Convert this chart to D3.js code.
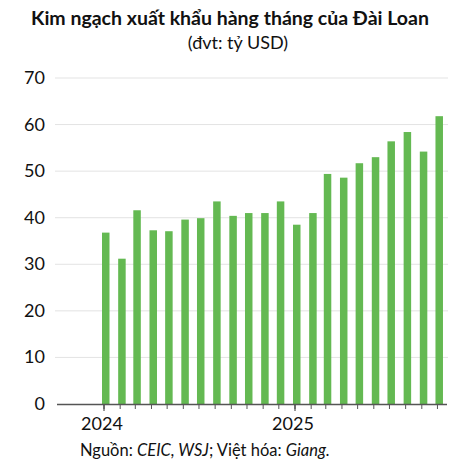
<!DOCTYPE html>
<html><head><meta charset="utf-8">
<script src="https://cdn.jsdelivr.net/npm/d3@7"></script>
<style>body{margin:0;background:#fff;font-family:Lato,sans-serif}</style>
</head><body><svg id="c" width="476" height="469"></svg>
<script>
// monthly exports, Jan 2024 .. Oct 2025
var months = d3.range(22).map(i => new Date(2024, i, 1));
var exportsBn = [36.8,31.2,41.6,37.3,37.1,39.6,39.9,43.5,40.4,41.0,41.0,43.5,
                 38.5,41.0,49.4,48.6,51.7,53.0,56.4,58.4,54.2,61.8];
var yTicks = [0,10,20,30,40,50,60,70];
var yearTicks = [new Date(2024,0,1), new Date(2025,0,1)];

var svg = d3.select("#c");
var x = d3.scaleTime().domain(yearTicks).range([104, 295]);
var y = d3.scaleLinear().domain([0,70]).range([404, 78]);

svg.append("text").attr("x",230).attr("y",25).attr("text-anchor","middle")
  .attr("font-weight","bold").attr("font-size",19.5).attr("fill","#111")
  .text("Kim ngạch xuất khẩu hàng tháng của Đài Loan");
svg.append("text").attr("x",238).attr("y",49).attr("text-anchor","middle")
  .attr("font-size",18).attr("fill","#111").text("(đvt: tỷ USD)");

// grid
svg.selectAll(".g").data(yTicks.slice(1)).join("line")
  .attr("x1",55).attr("x2",448).attr("y1",d=>y(d)).attr("y2",d=>y(d))
  .attr("stroke","#e3e3e3").attr("stroke-width",1);
svg.selectAll(".yl").data(yTicks).join("text")
  .attr("x",45).attr("y",d=>y(d)+6).attr("text-anchor","end")
  .attr("font-size",18).attr("fill","#111").text(d=>d);

// bars
svg.selectAll(".b").data(exportsBn).join("rect")
  .attr("x",(d,i)=>x(months[i])-2).attr("width",7.5)
  .attr("y",d=>y(d)).attr("height",d=>y(0)-y(d)).attr("fill","#64b952");

// x axis
svg.append("line").attr("x1",57).attr("x2",447).attr("y1",404.5).attr("y2",404.5)
  .attr("stroke","#555").attr("stroke-width",1.3);
svg.selectAll(".mt").data(months).join("line")
  .attr("x1",d=>x(d)).attr("x2",d=>x(d)).attr("y1",405).attr("y2",409)
  .attr("stroke","#555");
svg.selectAll(".yt").data(yearTicks).join("line")
  .attr("x1",d=>x(d)).attr("x2",d=>x(d)).attr("y1",405).attr("y2",411)
  .attr("stroke","#333");
svg.selectAll(".xl").data(yearTicks).join("text")
  .attr("x",d=>x(d)-2).attr("y",430).attr("text-anchor","middle")
  .attr("font-size",18).attr("fill","#111").text(d=>d.getFullYear());

var src = svg.append("text").attr("x",80).attr("y",456).attr("font-size",16.5).attr("fill","#111");
src.append("tspan").text("Nguồn: ");
src.append("tspan").attr("font-style","italic").text("CEIC, WSJ");
src.append("tspan").text("; Việt hóa: ");
src.append("tspan").attr("font-style","italic").text("Giang.");
</script></body></html>
